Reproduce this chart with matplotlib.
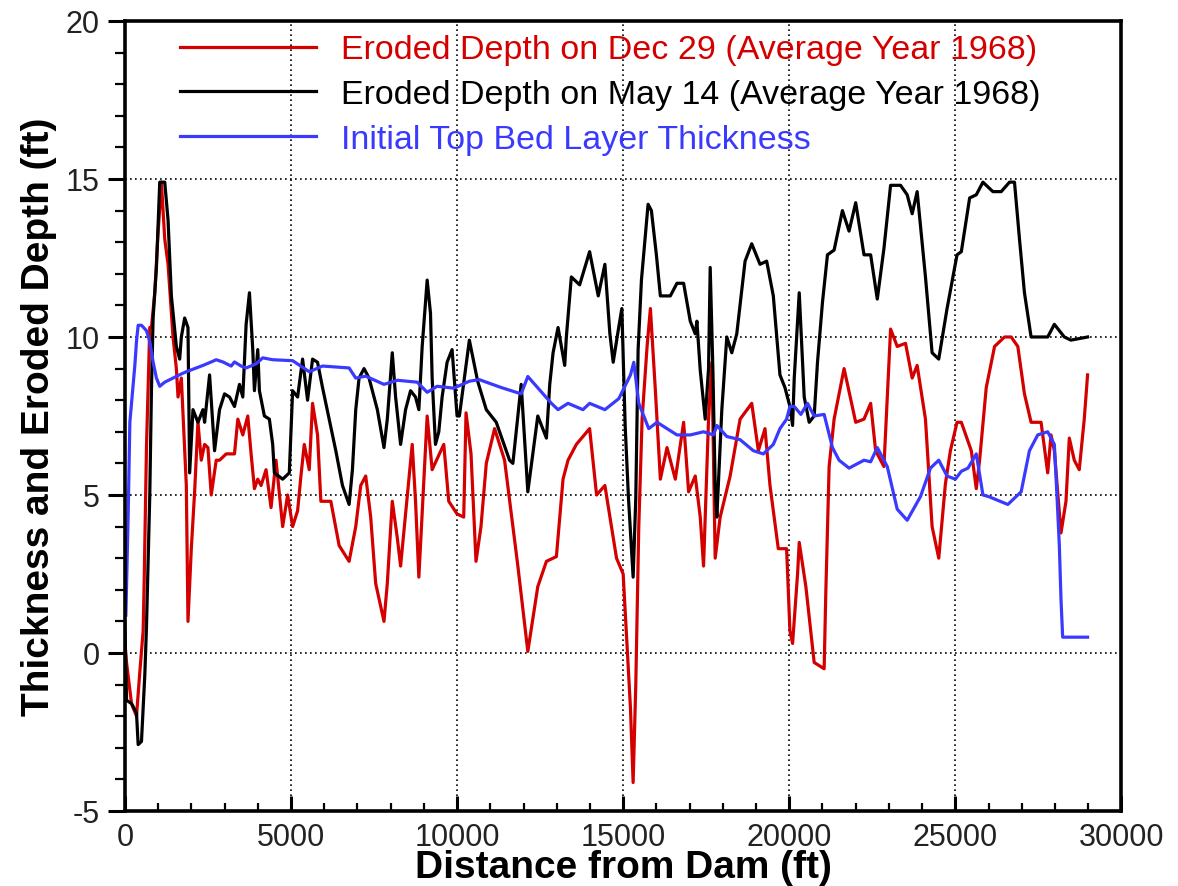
import matplotlib
matplotlib.use("Agg")
import matplotlib.pyplot as plt
from matplotlib.ticker import MultipleLocator

# ---- data (distance in ft, depth/thickness in ft) ----
dec_x = [0, 50, 200, 350, 450, 550, 580, 650, 750, 800, 900, 1000, 1100, 1200, 1300,
         1450, 1550, 1600, 1700, 1850, 1900, 2000, 2100, 2200, 2300, 2400, 2500, 2600,
         2750, 2850, 3050, 3300, 3400, 3550, 3700, 3800, 3900, 4000, 4100, 4250, 4400,
         4550, 4750, 4900, 5050, 5200, 5300, 5400, 5550, 5650, 5800, 5900, 6200, 6450,
         6750, 6950, 7100, 7250, 7400, 7550, 7800, 7900, 8050, 8200, 8300, 8450, 8650,
         8750, 8850, 9100, 9250, 9600, 9750, 10000, 10200, 10270, 10420, 10570, 10720,
         10880, 11130, 11430, 11830, 12130, 12430, 12690, 12990, 13190, 13340, 13590,
         13990, 14200, 14450, 14800, 15000, 15150, 15220, 15300, 15380, 15470, 15570,
         15720, 15820, 15970, 16120, 16320, 16570, 16820, 16970, 17170, 17320, 17420,
         17570, 17670, 17770, 17920, 18220, 18520, 18870, 19070, 19270, 19420, 19670,
         19920, 20020, 20100, 20250, 20300, 20500, 20750, 21050, 21100, 21200, 21350,
         21650, 22000, 22250, 22450, 22600, 22850, 23050, 23250, 23500, 23700, 23850,
         24100, 24300, 24500, 24700, 24850, 25050, 25180, 25480, 25630, 25730, 25930,
         26180, 26480, 26680, 26880, 27080, 27280, 27580, 27780, 27880, 27980, 28180,
         28330, 28430, 28580, 28730, 28880, 28980]
dec_y = [0.3, -0.3, -1.6, -2.0, -0.6, 0.7, 2.2, 6.5, 10.3, 10.3, 11.4, 13.3, 14.9, 13.1, 12.3,
         10.0, 9.0, 8.1, 8.7, 5.3, 1.0, 3.3, 5.1, 7.3, 6.1, 6.6, 6.5, 5.0,
         6.1, 6.1, 6.3, 6.3, 7.4, 6.9, 7.5, 6.3, 5.2, 5.5, 5.3, 5.8, 4.6,
         6.1, 4.0, 5.0, 4.0, 4.5, 5.6, 6.6, 5.8, 7.9, 6.9, 4.8, 4.8, 3.4,
         2.9, 4.0, 5.3, 5.6, 4.3, 2.2, 1.0, 2.2, 4.8, 3.65, 2.75, 4.4, 6.6,
         4.8, 2.4, 7.5, 5.8, 6.6, 4.8, 4.4, 4.3, 7.6, 6.3, 2.9, 4.0,
         6.0, 7.1, 6.1, 2.75, 0.05, 2.1, 2.9, 3.05, 5.5, 6.1, 6.6,
         7.1, 5.0, 5.3, 3.0, 2.5, -0.4, -1.75, -4.1, -1.0, 4.0, 7.4,
         9.7, 10.9, 8.3, 5.5, 6.5, 5.5, 7.3, 5.1, 5.6, 4.3, 2.75,
         7.4, 9.2, 3.0, 4.3, 5.6, 7.4, 7.9, 6.4, 7.1, 5.3, 3.3,
         3.3, 0.7, 0.3, 2.5, 3.5, 2.1, -0.3, -0.5, 1.9, 5.9, 7.4,
         9.0, 7.3, 7.4, 7.9, 6.4, 5.9, 10.25, 9.7, 9.8, 8.7, 9.1,
         7.4, 4.0, 3.0, 5.35, 6.4, 7.3, 7.3, 6.4, 5.2, 6.1, 8.4,
         9.7, 10.0, 10.0, 9.7, 8.2, 7.3, 7.3, 5.7, 6.9, 6.4, 3.8,
         4.8, 6.8, 6.1, 5.8, 7.4, 8.8]

may_x = [0, 50, 200, 350, 400, 500, 600, 650, 750, 800, 850, 950, 1050, 1200, 1300, 1400,
         1550, 1650, 1700, 1800, 1900, 1950, 2050, 2200, 2350, 2400, 2550, 2700, 2850,
         3000, 3150, 3300, 3450, 3550, 3650, 3750, 3850, 3900, 4000, 4050, 4200, 4350,
         4450, 4500, 4750, 4950, 5050, 5200, 5350, 5500, 5650, 5800, 5950, 6150, 6350,
         6550, 6750, 6850, 6950, 7050, 7200, 7350, 7600, 7800, 7900, 8050, 8150, 8300,
         8450, 8600, 8750, 8850, 8950, 9100, 9200, 9250, 9350, 9450, 9550, 9700, 9850,
         10000, 10070, 10220, 10370, 10620, 10880, 11180, 11580, 11680, 11880, 11930,
         12130, 12430, 12690, 12790, 12890, 13040, 13240, 13290, 13440, 13690, 13990,
         14250, 14450, 14600, 14700, 14850, 14960, 15060, 15160, 15300, 15380, 15450,
         15550, 15750, 15850, 16000, 16120, 16420, 16620, 16820, 17020, 17170, 17220,
         17320, 17470, 17570, 17620, 17700, 17770, 17820, 17970, 18120, 18270, 18420,
         18670, 18870, 19120, 19320, 19520, 19720, 19870, 20020, 20100, 20150, 20300,
         20450, 20600, 20750, 20850, 21000, 21150, 21350, 21600, 21800, 22000, 22250,
         22450, 22650, 22850, 23050, 23350, 23550, 23700, 23850, 24100, 24300, 24500,
         24750, 25050, 25180, 25430, 25630, 25830, 26130, 26380, 26630, 26780, 26930,
         27080, 27280, 27780, 27980, 28280, 28480, 28980]
may_y = [1.0, -1.5, -1.6, -1.9, -2.9, -2.8, -0.7, 0.8, 5.0, 8.3, 10.6, 12.2, 14.9, 14.9, 13.7, 11.3,
         9.7, 9.3, 10.0, 10.6, 10.3, 5.7, 7.7, 7.3, 7.7, 7.3, 8.8, 6.4, 7.7,
         8.2, 8.1, 7.8, 8.5, 8.1, 10.4, 11.4, 9.6, 8.3, 9.6, 8.3, 7.5, 7.4,
         6.6, 5.7, 5.5, 5.7, 8.3, 8.1, 9.3, 8.0, 9.3, 9.2, 8.4, 7.4, 6.4,
         5.3, 4.7, 5.8, 7.7, 8.7, 9.0, 8.7, 7.7, 6.5, 7.4, 9.5, 8.1, 6.6,
         7.7, 8.3, 8.1, 7.7, 9.7, 11.8, 10.75, 8.7, 6.6, 7.0, 8.1, 9.2, 9.6,
         7.5, 7.5, 8.7, 9.9, 8.6, 7.7, 7.3, 6.1, 6.0, 8.0, 8.5,
         5.1, 7.5, 6.8, 8.5, 9.5, 10.3, 9.1, 10.0, 11.9, 11.65, 12.7,
         11.3, 12.3, 10.1, 9.2, 10.2, 10.9, 7.2, 4.9, 2.4, 4.9, 9.6,
         11.8, 14.2, 14.0, 12.6, 11.3, 11.3, 11.7, 11.7, 10.5, 10.1, 10.5,
         8.95, 7.4, 9.0, 12.2, 9.0, 5.3, 4.3, 7.7, 10.0, 9.5, 10.1,
         12.4, 12.95, 12.3, 12.4, 11.3, 8.8, 8.4, 7.8, 7.2, 8.7, 11.4,
         8.1, 7.3, 7.5, 9.2, 11.1, 12.6, 12.75, 14.0, 13.35, 14.25, 12.6,
         12.6, 11.2, 12.8, 14.8, 14.8, 14.5, 13.9, 14.6, 11.9, 9.5, 9.3,
         10.9, 12.6, 12.7, 14.4, 14.5, 14.9, 14.6, 14.6, 14.9, 14.9, 13.1,
         11.4, 10.0, 10.0, 10.4, 10.0, 9.9, 10.0]

bed_x = [30, 100, 150, 200, 300, 350, 400, 500, 650, 750, 850, 950, 1050, 1200, 1450,
         1700, 1850, 2150, 2350, 2600, 2750, 2950, 3200, 3300, 3500, 3650, 3950, 4150,
         4450, 5050, 5550, 5950, 6750, 6950, 7250, 7800, 8200, 8800, 9100, 9400, 9900,
         10370, 10670, 11330, 11930, 12130, 12840, 13040, 13340, 13790, 13990, 14450,
         14870, 15220, 15320, 15470, 15770, 16020, 16620, 17020, 17420, 17720, 17820,
         18120, 18520, 18920, 19220, 19520, 19720, 19920, 20020, 20150, 20350, 20550,
         20750, 21050, 21300, 21500, 21800, 22250, 22450, 22650, 22950, 23250, 23550,
         23950, 24250, 24500, 24750, 25000, 25180, 25380, 25630, 25830, 26000, 26580,
         26980, 27230, 27480, 27780, 27980, 28060, 28130, 28180, 28230, 28980]
bed_y = [1.2, 4.4, 7.3, 7.9, 9.1, 9.86, 10.37, 10.37, 10.2, 9.86, 9.21, 8.7, 8.44, 8.57, 8.7,
         8.83, 8.9, 9.02, 9.1, 9.21, 9.28, 9.21, 9.08, 9.21, 9.08, 9.02, 9.15, 9.34,
         9.28, 9.25, 8.9, 9.08, 9.02, 8.7, 8.76, 8.5, 8.63, 8.57, 8.25, 8.44, 8.38,
         8.6, 8.65, 8.4, 8.2, 8.75, 7.9, 7.7, 7.9, 7.7, 7.9, 7.7,
         8.05, 8.8, 9.2, 7.9, 7.1, 7.3, 6.9, 6.9, 7.0, 6.9, 7.2,
         6.85, 6.75, 6.4, 6.3, 6.6, 7.1, 7.4, 7.8, 7.8, 7.55, 7.9,
         7.5, 7.55, 6.5, 6.1, 5.85, 6.1, 6.05, 6.5, 5.9, 4.55, 4.2,
         4.95, 5.85, 6.1, 5.6, 5.5, 5.75, 5.85, 6.3, 5.0, 4.95, 4.7,
         5.1, 6.4, 6.9, 7.0, 6.6, 4.95, 3.4, 1.7, 0.5, 0.5]

labels = ["Eroded Depth on Dec 29 (Average Year 1968)",
          "Eroded Depth on May 14 (Average Year 1968)",
          "Initial Top Bed Layer Thickness"]
colors = ["#d40000", "#000000", "#3a3aff"]

plt.rcParams['font.family'] = ['Liberation Sans', 'DejaVu Sans']
plt.rcParams['axes.unicode_minus'] = False

fig = plt.figure(figsize=(11.78, 8.87), dpi=100)
ax = fig.add_axes([0.106, 0.0846, 0.846, 0.8906])

ax.plot(dec_x, dec_y, color=colors[0], lw=2.3, label=labels[0])
ax.plot(may_x, may_y, color=colors[1], lw=2.3, label=labels[1])
ax.plot(bed_x, bed_y, color=colors[2], lw=2.3, label=labels[2])

ax.set_xlim(0, 30000)
ax.set_ylim(-5, 20)
ax.xaxis.set_major_locator(MultipleLocator(5000))
ax.xaxis.set_minor_locator(MultipleLocator(1000))
ax.yaxis.set_major_locator(MultipleLocator(5))
ax.yaxis.set_minor_locator(MultipleLocator(1))

ax.grid(True, which='major', color='black', linestyle=(0, (1, 2)), linewidth=1.2)
for s in ax.spines.values():
    s.set_linewidth(2.6)

ax.tick_params(axis='y', which='major', direction='out', length=12, width=2.2,
               labelsize=22, pad=6)
ax.tick_params(axis='y', which='minor', direction='out', length=7, width=1.6)
ax.tick_params(axis='x', which='major', direction='in', length=11, width=2.2,
               labelsize=22, pad=8)
ax.tick_params(axis='x', which='minor', direction='in', length=6, width=1.6)
for t in ax.get_xticklabels() + ax.get_yticklabels():
    t.set_color('#222222')

ax.set_xlabel("Distance from Dam (ft)", fontsize=28, fontweight='bold', labelpad=-2)
ax.set_ylabel("Thickness and Eroded Depth (ft)", fontsize=28, fontweight='bold', labelpad=6)

leg = ax.legend(loc='upper left', bbox_to_anchor=(0.055, 0.983), frameon=False,
                fontsize=24.5, handlelength=4.0, handletextpad=0.75, labelspacing=0.4,
                borderpad=0, borderaxespad=0, labelcolor='linecolor')

fig.savefig("out.png", dpi=100)
